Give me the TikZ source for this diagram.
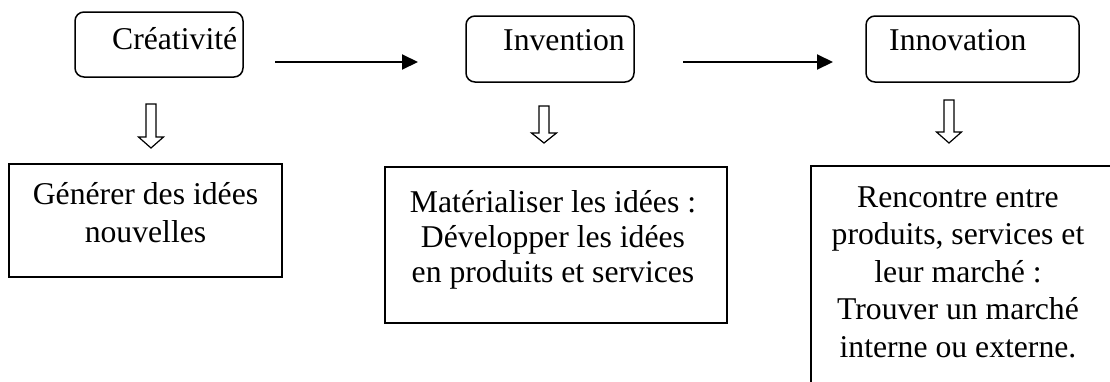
\documentclass[tikz,border=0pt]{standalone}
\usepackage{fontspec}
\setmainfont{Liberation Serif}
\usetikzlibrary{arrows.meta}

\tikzset{
  stage/.style={draw, line width=1.5pt, rounded corners=9pt, inner sep=0pt},
  stagetext/.style={inner sep=0pt, anchor=base west, font=\fontsize{31.7}{38}\selectfont},
  descbox/.style={draw, line width=2pt, inner sep=0pt},
  desctext/.style={inner sep=0pt, anchor=base},
  flow/.style={line width=2pt, -{Triangle[length=16pt,width=15pt]}},
  hollow/.style={draw, line width=1.2pt, line join=miter, fill=white},
}

% hollow down arrow: centre x, top, start of the head, tip
\newcommand\hollowdown[4]{%
  \draw[hollow] (#1-5,#2) -- (#1+5,#2) -- (#1+5,#3) -- (#1+12.5,#3)
    -- (#1,#4) -- (#1-12.5,#3) -- (#1-5,#3) -- cycle;}

\begin{document}
\begin{tikzpicture}[x=1pt, y=-1pt]
  \useasboundingbox (0,0) rectangle (1110,381);
  \clip (0,0) rectangle (1110,381);

  % the three stages
  \node[stage, minimum width=168pt, minimum height=65pt] (cre) at (159,44.5) {};
  \node[stage, minimum width=168pt, minimum height=66pt] (inv) at (550,49) {};
  \node[stage, minimum width=213pt, minimum height=66pt] (inn) at (972.5,49) {};
  \node[stagetext] (crelbl) at (112,49) {Créativité};
  \node[stagetext] (invlbl) at (503,50) {Invention};
  \node[stagetext] (innlbl) at (889,50) {Innovation};

  % links between the stages
  \coordinate (a1s) at (275,62);
  \coordinate (a1e) at (418,62);
  \coordinate (a2s) at (683,62);
  \coordinate (a2e) at (833,62);
  \draw[flow] (a1s) -- (a1e);
  \draw[flow] (a2s) -- (a2e);

  % downward hollow arrows
  \hollowdown{151}{104}{137}{148}
  \hollowdown{544}{106}{133}{143}
  \hollowdown{949}{100}{132}{143}

  % what each stage does
  \node[descbox, minimum width=273pt, minimum height=113pt] (gen) at (145.5,220.5) {};
  \node[descbox, minimum width=342pt, minimum height=156pt] (mat) at (556,245) {};
  \node[descbox, minimum width=303pt, minimum height=240pt] (ren) at (962.5,286) {};

  \node[desctext, font=\fontsize{31.7}{38}\selectfont] (gentxt) at (145.5,204)
    {\begin{tabular}[t]{@{}c@{}}Générer des idées\\nouvelles\end{tabular}};
  \node[desctext, font=\fontsize{31.7}{35}\selectfont] (mattxt) at (553,212)
    {\begin{tabular}[t]{@{}c@{}}Matérialiser les idées :\\Développer les idées\\en produits et services\end{tabular}};
  \node[desctext, font=\fontsize{31.7}{37.5}\selectfont] (rentxt) at (958,207)
    {\begin{tabular}[t]{@{}c@{}}Rencontre entre\\produits, services et\\leur marché :\\Trouver un marché\\interne ou externe.\end{tabular}};
\end{tikzpicture}
\end{document}
